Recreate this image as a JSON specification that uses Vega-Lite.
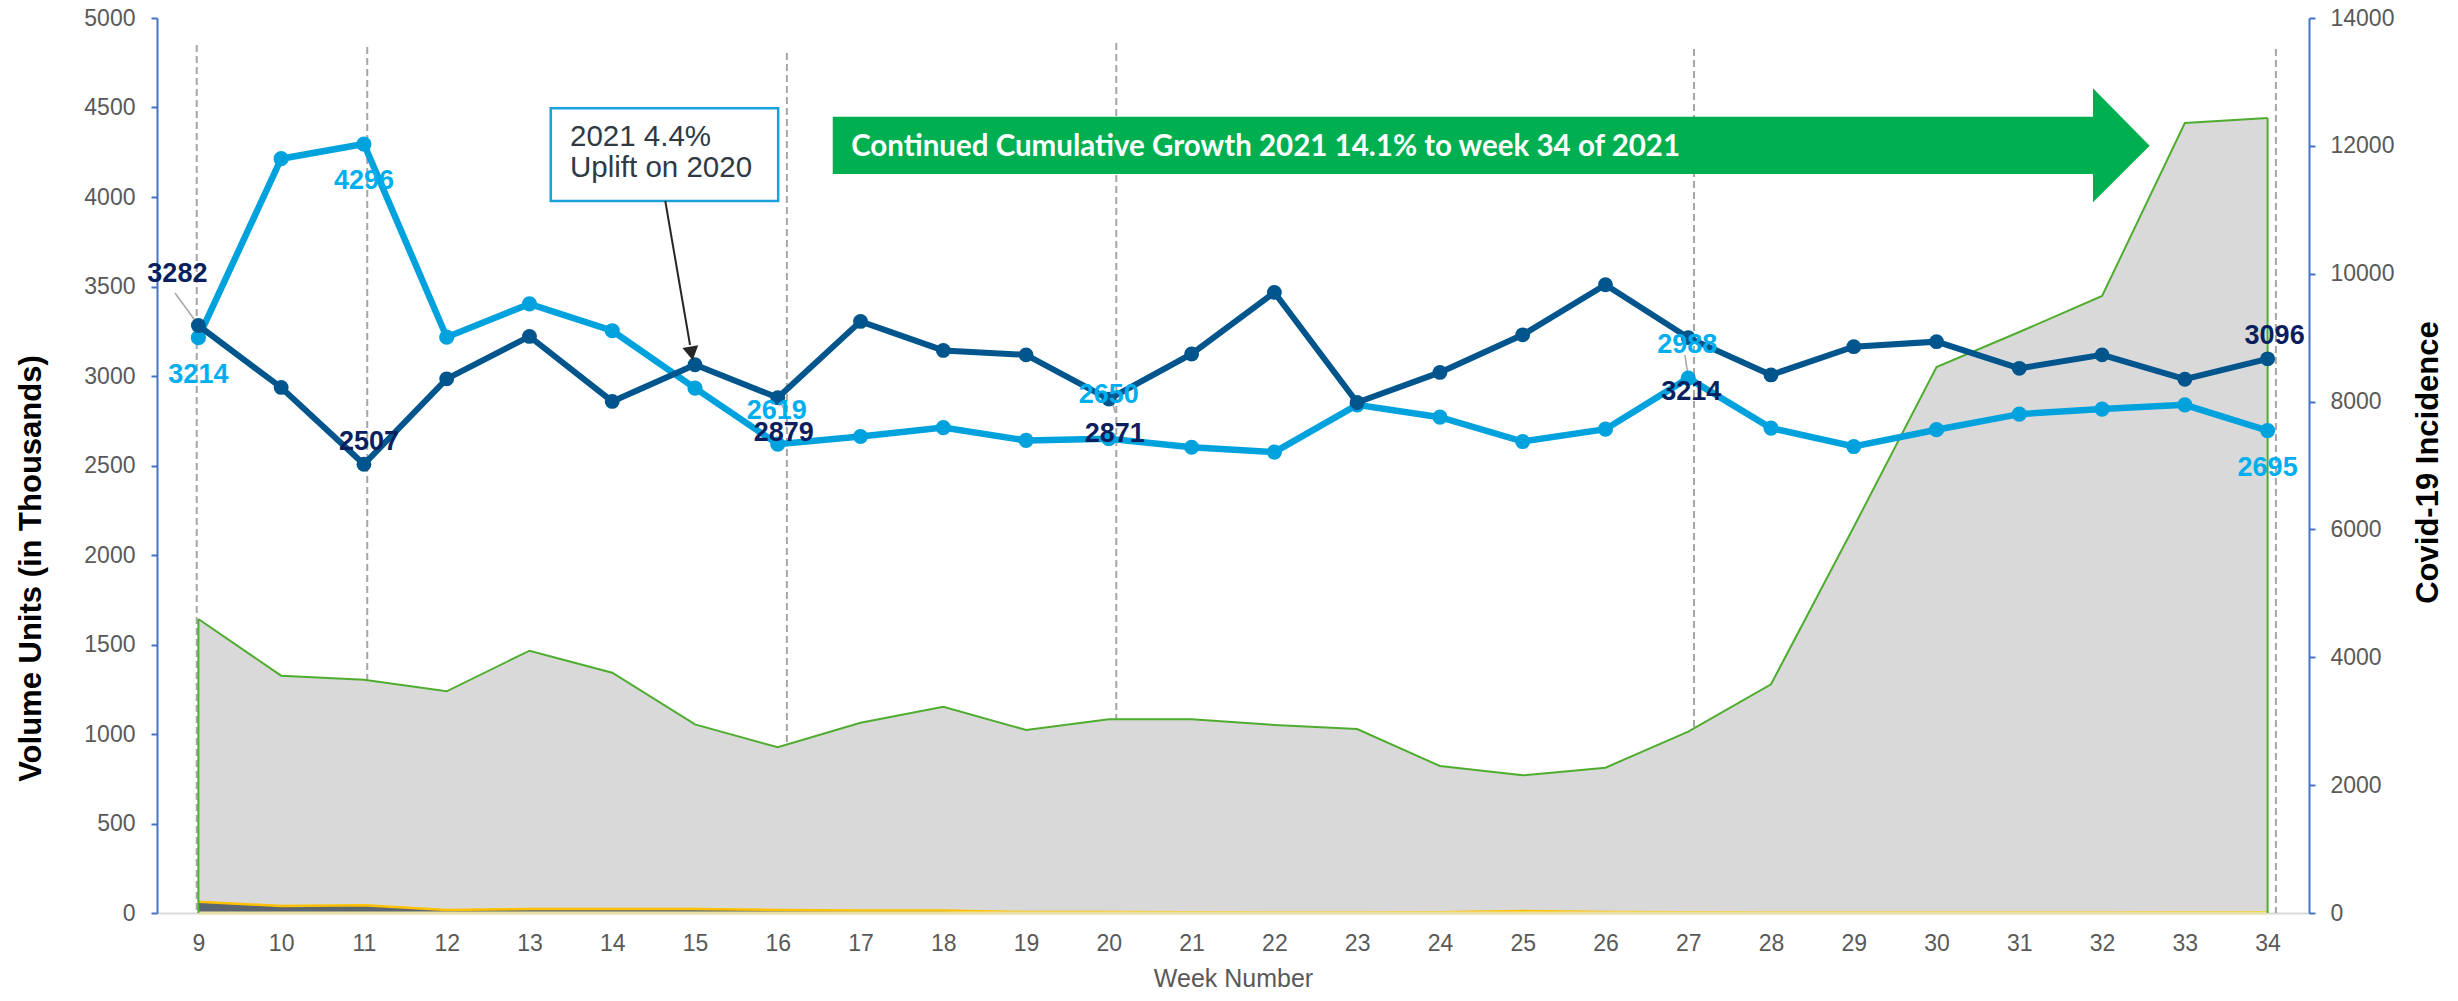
{
"$schema":"https://vega.github.io/schema/vega-lite/v6.json",
"width":2152,"height":895,
"autosize":{"type":"none"},
"padding":{"left":157,"top":18,"right":149,"bottom":88},
"background":"white",
"config":{"view":{"stroke":null},"font":"Liberation Sans"},
"datasets":{
"weekly":[
{"week":9,"covid":4599,"y2020":3214,"y2021":3282,"small":177,"other":0},
{"week":10,"covid":3712,"y2020":4214,"y2021":2936,"small":109,"other":0},
{"week":11,"covid":3650,"y2020":4296,"y2021":2507,"small":120,"other":0},
{"week":12,"covid":3468,"y2020":3217,"y2021":2984,"small":47,"other":0},
{"week":13,"covid":4103,"y2020":3403,"y2021":3221,"small":62,"other":0},
{"week":14,"covid":3759,"y2020":3253,"y2021":2858,"small":62,"other":0},
{"week":15,"covid":2951,"y2020":2932,"y2021":3063,"small":62,"other":0},
{"week":16,"covid":2592,"y2020":2619,"y2021":2879,"small":47,"other":0},
{"week":17,"covid":2977,"y2020":2662,"y2021":3305,"small":40,"other":0},
{"week":18,"covid":3227,"y2020":2712,"y2021":3143,"small":40,"other":0},
{"week":19,"covid":2863,"y2020":2640,"y2021":3118,"small":15,"other":0},
{"week":20,"covid":3030,"y2020":2650,"y2021":2871,"small":15,"other":0},
{"week":21,"covid":3030,"y2020":2602,"y2021":3123,"small":10,"other":0},
{"week":22,"covid":2941,"y2020":2575,"y2021":3467,"small":8,"other":0},
{"week":23,"covid":2878,"y2020":2839,"y2021":2852,"small":8,"other":0},
{"week":24,"covid":2299,"y2020":2770,"y2021":3020,"small":10,"other":0},
{"week":25,"covid":2154,"y2020":2634,"y2021":3230,"small":30,"other":0},
{"week":26,"covid":2273,"y2020":2703,"y2021":3510,"small":15,"other":0},
{"week":27,"covid":2836,"y2020":2988,"y2021":3214,"small":10,"other":0},
{"week":28,"covid":3577,"y2020":2709,"y2021":3006,"small":8,"other":0},
{"week":29,"covid":6038,"y2020":2606,"y2021":3164,"small":8,"other":0},
{"week":30,"covid":8541,"y2020":2700,"y2021":3192,"small":8,"other":0},
{"week":31,"covid":9088,"y2020":2787,"y2021":3043,"small":8,"other":0},
{"week":32,"covid":9651,"y2020":2815,"y2021":3118,"small":8,"other":0},
{"week":33,"covid":12357,"y2020":2839,"y2021":2982,"small":10,"other":0},
{"week":34,"covid":12436,"y2020":2695,"y2021":3096,"small":10,"other":0}
],
"dashes":[
{"week":8.98,"top":13577},{"week":11.04,"top":13546},{"week":16.11,"top":13452},
{"week":20.09,"top":13609},{"week":27.07,"top":13515},{"week":34.1,"top":13515}
],
"arrowShape":[
{"x":16.664,"top":4448.6,"bottom":4128.5},
{"x":31.89,"top":4448.6,"bottom":4128.5},
{"x":31.8901,"top":4607.3,"bottom":3970.4},
{"x":32.575,"top":4286.6,"bottom":4286.6}
],
"box":[{"x":13.257,"x2":16.005,"y":4495.5,"y2":3977.7}],
"boxText":[{"x":13.49,"y":4335,"text":"2021 4.4%"},{"x":13.49,"y":4160,"text":"Uplift on 2020"}],
"banner":[{"x":21.894,"y":4281,"text":"Continued Cumulative Growth 2021 14.1% to week 34 of 2021"}],
"pointer":[{"x":14.641,"y":3977.7,"x2":14.94,"y2":3173}],
"pointerHead":[{"x":14.958,"y":3125.7}],
"leaders":[
{"x":8.717,"y":3464,"x2":9.0,"y2":3285},
{"x":16.0,"y":2883,"x2":16.08,"y2":2810},
{"x":20.02,"y":2883,"x2":20.08,"y2":2793},
{"x":26.96,"y":3117,"x2":27.0,"y2":2994}
]
},
"resolve":{"scale":{"x":"independent","y":"independent"},"axis":{"x":"independent","y":"independent"}},
"layer":[
{"data":{"name":"dashes"},"mark":{"type":"rule","color":"#A6A6A6","strokeWidth":2,"strokeDash":[7,4]},
"encoding":{"x":{"field":"week","type":"quantitative","scale":{"domain":[8.5,34.5],"nice":false,"zero":false},"axis":null},
"y":{"field":"top","type":"quantitative","scale":{"domain":[0,14000],"nice":false},"axis":null},"y2":{"datum":0}}},
{"data":{"name":"weekly"},"mark":{"type":"area","fill":"#D9D9D9","opacity":1},
"encoding":{"x":{"field":"week","type":"quantitative","scale":{"domain":[8.5,34.5],"nice":false,"zero":false},
"axis":{"orient":"bottom","values":[9,10,11,12,13,14,15,16,17,18,19,20,21,22,23,24,25,26,27,28,29,30,31,32,33,34],"format":"d","title":"Week Number","titleFont":"Liberation Sans","titleFontSize":25,"titleFontWeight":"normal","titleColor":"#595959","titleY":53,"titleBaseline":"top","labelFont":"Liberation Sans","labelFontSize":23,"labelColor":"#595959","ticks":false,"tickSize":0,"labelPadding":19,"domainColor":"#D9D9D9","domainWidth":2,"grid":false,"labelFlush":false}},
"y":{"field":"covid","type":"quantitative","scale":{"domain":[0,14000],"nice":false},
"axis":{"orient":"right","values":[0,2000,4000,6000,8000,10000,12000,14000],"format":"d","title":"Covid-19 Incidence","titleFont":"Liberation Sans","titleFontSize":31,"titleFontWeight":"bold","titleColor":"#000000","titleAngle":270,"titleX":128,"titleY":444,"titleBaseline":"alphabetic","titleAlign":"center","labelFont":"Liberation Sans","labelFontSize":23,"labelColor":"#595959","labelPadding":15,"tickColor":"#4472C4","tickSize":6,"tickWidth":2,"domainColor":"#4472C4","domainWidth":2,"grid":false,"labelFlush":false}}}},
{"data":{"name":"weekly"},"mark":{"type":"area","fill":"#5B6670","opacity":1},
"encoding":{"x":{"field":"week","type":"quantitative","scale":{"domain":[8.5,34.5],"nice":false,"zero":false},"axis":null},
"y":{"field":"small","type":"quantitative","scale":{"domain":[0,14000],"nice":false},"axis":null}}},
{"data":{"name":"weekly"},"mark":{"type":"line","color":"#FFC000","strokeWidth":2.5},
"encoding":{"x":{"field":"week","type":"quantitative","scale":{"domain":[8.5,34.5],"nice":false,"zero":false},"axis":null},
"y":{"field":"small","type":"quantitative","scale":{"domain":[0,14000],"nice":false},"axis":null}}},
{"data":{"name":"weekly"},"mark":{"type":"line","color":"#EAE3A8","strokeWidth":3},
"encoding":{"x":{"field":"week","type":"quantitative","scale":{"domain":[8.5,34.5],"nice":false,"zero":false},"axis":null},
"y":{"field":"other","type":"quantitative","scale":{"domain":[0,14000],"nice":false},"axis":null}}},
{"data":{"name":"weekly"},"mark":{"type":"line","color":"#4EAD2F","strokeWidth":2},
"encoding":{"x":{"field":"week","type":"quantitative","scale":{"domain":[8.5,34.5],"nice":false,"zero":false},"axis":null},
"y":{"field":"covid","type":"quantitative","scale":{"domain":[0,14000],"nice":false},"axis":null}}},
{"data":{"name":"weekly"},"transform":[{"filter":"datum.week == 9 || datum.week == 34"}],"mark":{"type":"rule","color":"#4EAD2F","strokeWidth":2},
"encoding":{"x":{"field":"week","type":"quantitative","scale":{"domain":[8.5,34.5],"nice":false,"zero":false},"axis":null},
"y":{"field":"covid","type":"quantitative","scale":{"domain":[0,14000],"nice":false},"axis":null},"y2":{"datum":0}}},
{"data":{"name":"leaders"},"mark":{"type":"rule","color":"#A6A6A6","strokeWidth":1.5},
"encoding":{"x":{"field":"x","type":"quantitative","scale":{"domain":[8.5,34.5],"nice":false,"zero":false},"axis":null},"x2":{"field":"x2"},
"y":{"field":"y","type":"quantitative","scale":{"domain":[0,5000],"nice":false},
"axis":{"orient":"left","values":[0,500,1000,1500,2000,2500,3000,3500,4000,4500,5000],"format":"d","title":"Volume Units (in Thousands)","titleFont":"Liberation Sans","titleFontSize":31,"titleFontWeight":"bold","titleColor":"#000000","titleAngle":270,"titleX":-117,"titleY":550,"titleBaseline":"alphabetic","titleAlign":"center","labelFont":"Liberation Sans","labelFontSize":23,"labelColor":"#595959","labelPadding":16,"tickColor":"#4472C4","tickSize":6,"tickWidth":2,"domainColor":"#4472C4","domainWidth":2,"grid":false,"labelFlush":false}},"y2":{"field":"y2"}}},
{"data":{"name":"weekly"},"mark":{"type":"line","color":"#00A2DE","strokeWidth":6.5,"point":{"filled":true,"size":230,"color":"#00A2DE"}},
"encoding":{"x":{"field":"week","type":"quantitative","scale":{"domain":[8.5,34.5],"nice":false,"zero":false},"axis":null},
"y":{"field":"y2020","type":"quantitative","scale":{"domain":[0,5000],"nice":false},"axis":null}}},
{"data":{"name":"weekly"},"mark":{"type":"line","color":"#00558C","strokeWidth":6,"point":{"filled":true,"size":220,"color":"#00558C"}},
"encoding":{"x":{"field":"week","type":"quantitative","scale":{"domain":[8.5,34.5],"nice":false,"zero":false},"axis":null},
"y":{"field":"y2021","type":"quantitative","scale":{"domain":[0,5000],"nice":false},"axis":null}}},
{"data":{"name":"weekly"},"transform":[{"filter":"datum.week == 9"}],"mark":{"type":"text","font":"Liberation Sans","fontSize":27,"fontWeight":"bold","color":"#0B1F5E","dx":-21,"dy":-52},
"encoding":{"x":{"field":"week","type":"quantitative","scale":{"domain":[8.5,34.5],"nice":false,"zero":false},"axis":null},
"y":{"field":"y2021","type":"quantitative","scale":{"domain":[0,5000],"nice":false},"axis":null},"text":{"field":"y2021","type":"quantitative","format":"d"}}},
{"data":{"name":"weekly"},"transform":[{"filter":"datum.week == 11"}],"mark":{"type":"text","font":"Liberation Sans","fontSize":27,"fontWeight":"bold","color":"#0B1F5E","dx":5,"dy":-22},
"encoding":{"x":{"field":"week","type":"quantitative","scale":{"domain":[8.5,34.5],"nice":false,"zero":false},"axis":null},
"y":{"field":"y2021","type":"quantitative","scale":{"domain":[0,5000],"nice":false},"axis":null},"text":{"field":"y2021","type":"quantitative","format":"d"}}},
{"data":{"name":"weekly"},"transform":[{"filter":"datum.week == 34"}],"mark":{"type":"text","font":"Liberation Sans","fontSize":27,"fontWeight":"bold","color":"#0B1F5E","dx":7,"dy":-23},
"encoding":{"x":{"field":"week","type":"quantitative","scale":{"domain":[8.5,34.5],"nice":false,"zero":false},"axis":null},
"y":{"field":"y2021","type":"quantitative","scale":{"domain":[0,5000],"nice":false},"axis":null},"text":{"field":"y2021","type":"quantitative","format":"d"}}},
{"data":{"name":"weekly"},"transform":[{"filter":"datum.week == 16 || datum.week == 20"}],"mark":{"type":"text","font":"Liberation Sans","fontSize":27,"fontWeight":"bold","color":"#0B1F5E","dx":6,"dy":35},
"encoding":{"x":{"field":"week","type":"quantitative","scale":{"domain":[8.5,34.5],"nice":false,"zero":false},"axis":null},
"y":{"field":"y2021","type":"quantitative","scale":{"domain":[0,5000],"nice":false},"axis":null},"text":{"field":"y2021","type":"quantitative","format":"d"}}},
{"data":{"name":"weekly"},"transform":[{"filter":"datum.week == 27"}],"mark":{"type":"text","font":"Liberation Sans","fontSize":27,"fontWeight":"bold","color":"#0B1F5E","dx":3,"dy":54},
"encoding":{"x":{"field":"week","type":"quantitative","scale":{"domain":[8.5,34.5],"nice":false,"zero":false},"axis":null},
"y":{"field":"y2021","type":"quantitative","scale":{"domain":[0,5000],"nice":false},"axis":null},"text":{"field":"y2021","type":"quantitative","format":"d"}}},
{"data":{"name":"weekly"},"transform":[{"filter":"datum.week == 9 || datum.week == 11 || datum.week == 34"}],"mark":{"type":"text","font":"Liberation Sans","fontSize":27,"fontWeight":"bold","color":"#00AEEF","dx":0,"dy":37},
"encoding":{"x":{"field":"week","type":"quantitative","scale":{"domain":[8.5,34.5],"nice":false,"zero":false},"axis":null},
"y":{"field":"y2020","type":"quantitative","scale":{"domain":[0,5000],"nice":false},"axis":null},"text":{"field":"y2020","type":"quantitative","format":"d"}}},
{"data":{"name":"weekly"},"transform":[{"filter":"datum.week == 16 || datum.week == 27"}],"mark":{"type":"text","font":"Liberation Sans","fontSize":27,"fontWeight":"bold","color":"#00AEEF","dx":-1,"dy":-33},
"encoding":{"x":{"field":"week","type":"quantitative","scale":{"domain":[8.5,34.5],"nice":false,"zero":false},"axis":null},
"y":{"field":"y2020","type":"quantitative","scale":{"domain":[0,5000],"nice":false},"axis":null},"text":{"field":"y2020","type":"quantitative","format":"d"}}},
{"data":{"name":"weekly"},"transform":[{"filter":"datum.week == 20"}],"mark":{"type":"text","font":"Liberation Sans","fontSize":27,"fontWeight":"bold","color":"#00AEEF","dx":0,"dy":-44},
"encoding":{"x":{"field":"week","type":"quantitative","scale":{"domain":[8.5,34.5],"nice":false,"zero":false},"axis":null},
"y":{"field":"y2020","type":"quantitative","scale":{"domain":[0,5000],"nice":false},"axis":null},"text":{"field":"y2020","type":"quantitative","format":"d"}}},
{"data":{"name":"arrowShape"},"mark":{"type":"area","fill":"#00B050","opacity":1},
"encoding":{"x":{"field":"x","type":"quantitative","scale":{"domain":[8.5,34.5],"nice":false,"zero":false},"axis":null},
"y":{"field":"top","type":"quantitative","scale":{"domain":[0,5000],"nice":false},"axis":null},"y2":{"field":"bottom"}}},
{"data":{"name":"banner"},"mark":{"type":"text","font":"Lato","fontSize":29.5,"fontWeight":"bold","color":"#FFFFFF","align":"center","baseline":"middle"},
"encoding":{"x":{"field":"x","type":"quantitative","scale":{"domain":[8.5,34.5],"nice":false,"zero":false},"axis":null},
"y":{"field":"y","type":"quantitative","scale":{"domain":[0,5000],"nice":false},"axis":null},"text":{"field":"text"}}},
{"data":{"name":"box"},"mark":{"type":"rect","fill":"#FFFFFF","stroke":"#1BA1DB","strokeWidth":2.5},
"encoding":{"x":{"field":"x","type":"quantitative","scale":{"domain":[8.5,34.5],"nice":false,"zero":false},"axis":null},"x2":{"field":"x2"},
"y":{"field":"y","type":"quantitative","scale":{"domain":[0,5000],"nice":false},"axis":null},"y2":{"field":"y2"}}},
{"data":{"name":"boxText"},"mark":{"type":"text","font":"Liberation Sans","fontSize":29.5,"color":"#2F3A45","align":"left","baseline":"middle"},
"encoding":{"x":{"field":"x","type":"quantitative","scale":{"domain":[8.5,34.5],"nice":false,"zero":false},"axis":null},
"y":{"field":"y","type":"quantitative","scale":{"domain":[0,5000],"nice":false},"axis":null},"text":{"field":"text"}}},
{"data":{"name":"pointer"},"mark":{"type":"rule","color":"#262626","strokeWidth":2},
"encoding":{"x":{"field":"x","type":"quantitative","scale":{"domain":[8.5,34.5],"nice":false,"zero":false},"axis":null},"x2":{"field":"x2"},
"y":{"field":"y","type":"quantitative","scale":{"domain":[0,5000],"nice":false},"axis":null},"y2":{"field":"y2"}}},
{"data":{"name":"pointerHead"},"mark":{"type":"point","shape":"triangle-down","filled":true,"size":256,"color":"#262626","opacity":1,"angle":350},
"encoding":{"x":{"field":"x","type":"quantitative","scale":{"domain":[8.5,34.5],"nice":false,"zero":false},"axis":null},
"y":{"field":"y","type":"quantitative","scale":{"domain":[0,5000],"nice":false},"axis":null}}}
]
}
